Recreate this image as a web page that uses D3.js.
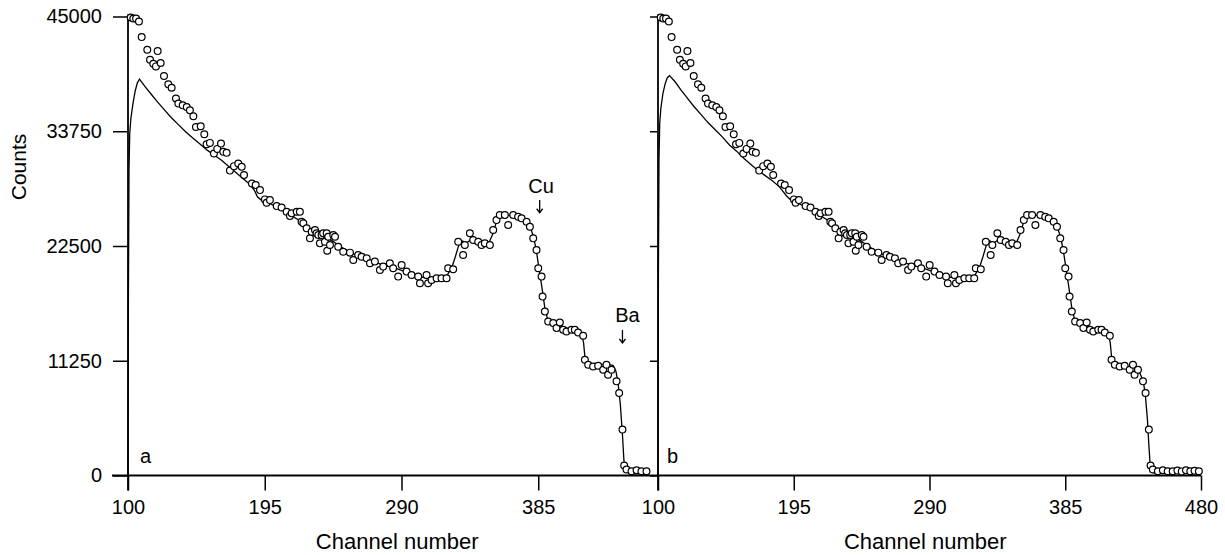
<!DOCTYPE html>
<html>
<head>
<meta charset="utf-8">
<script src="https://cdn.jsdelivr.net/npm/d3@7"></script>
<style>
  body { margin: 0; background: #fff; }
  svg { display: block; }
  text { font-family: "Liberation Sans", Arial, sans-serif; fill: #000; }
</style>
</head>
<body>
<div id="chart"></div>
<script>
// measured spectrum (circles), same in both panels
var dataChannel = [101.9,103.7,105.6,107.6,109.5,113.4,115.3,117.6,119.4,120.6,122.7,125.0,128.0,130.3,133.3,135.0,138.0,140.8,143.0,145.4,
  147.2,150.5,153.0,154.6,156.9,159.7,162.0,164.6,166.2,168.5,170.8,173.6,176.6,179.0,180.6,186.1,188.7,191.7,195.1,196.3,
  198.6,203.3,206.7,210.2,212.5,213.7,217.2,219.4,220.6,221.8,224.1,226.4,227.6,229.9,231.0,232.2,233.3,234.5,235.6,236.8,
  238.0,238.4,239.1,240.3,242.6,243.8,246.0,249.5,254.2,256.5,259.9,262.3,265.8,268.1,271.5,275.0,277.3,281.9,284.2,287.7,
  290.1,293.5,297.0,301.6,302.8,307.4,308.5,310.9,314.4,317.8,321.3,322.4,325.9,329.4,332.8,334.0,337.5,339.8,343.3,345.6,
  347.9,351.4,353.7,356.0,358.3,361.8,364.1,367.6,371.0,373.4,376.9,379.2,381.5,383.8,385.0,387.3,388.0,389.6,391.9,395.4,
  397.7,400.0,402.3,404.6,408.1,410.4,412.7,416.2,417.4,419.7,423.1,426.6,430.1,432.4,433.5,435.9,439.4,441.2,443.5,444.7,
  446.3,449.8,453.3,456.7,460.2,463.5,466.5,469.5,472.5,475.5,478.5];
var dataCounts = [44900,44800,44800,44510,42980,41740,40760,40370,40110,41610,40440,39160,38350,38020,36950,36460,36290,36130,35800,35220,
  34170,34240,33460,32480,32610,31570,32020,32540,31730,31630,29890,30330,30590,30260,29450,28630,28470,27980,27070,26740,
  27000,26410,26280,25860,25430,25700,25860,25860,24880,24720,24230,23250,23900,24070,23740,23580,22760,23580,23740,22920,
  23740,22040,23410,22600,23580,23410,22430,21940,21850,21130,21620,21450,21300,20810,20970,20150,20480,20810,20320,19500,
  20640,19990,19660,19500,18850,19660,18850,19170,19340,19340,19340,20320,20220,22920,21620,22600,23740,23090,22920,22600,
  22760,22600,24070,25040,25530,25530,24550,25530,25370,25210,24880,24390,23250,22110,20320,19500,17540,16070,15100,14940,
  14450,15000,14280,14120,14280,14280,14020,13700,11350,10860,10690,10760,10370,10860,9880,10370,9230,8090,4500,980,
  590,420,520,420,420,480,400,520,420,470,420];

// simulated spectrum, panel a
var fitAChannel = [100,100.3,100.7,101.2,102,103.5,105,106.5,108,112,116,120,125,130,135,140,145,150,155,160,165,170,175,180,185,188,190,193,
  198,205,212,218,224,230,236,242,248,254,260,266,272,278,284,290,296,302,308,314,319,322,325,327.5,330,332,335,339,343,347,351,353.5,
  356,359,363,368,372,376,379,381.5,383.5,385.5,387.5,389.5,391.5,394,400,406,412,415,416.5,417.5,419,425,432,437,439,440.5,442,443.5,
  444.5,445.5,448,455,461];
var fitACounts = [0,18000,30000,33500,35000,36500,37700,38500,38850,38100,37400,36700,35900,35100,34400,33700,33100,32500,31900,31400,30900,30300,29700,29100,28500,27900,27300,26950,
  26700,26200,25600,25100,24400,23900,23400,23000,22400,21900,21500,21200,20900,20600,20400,20100,19800,19500,19350,19300,19350,19700,20400,21500,22700,23000,22800,23200,23000,22800,22900,23700,
  24900,25400,25500,25500,25300,25000,24500,23500,22200,20300,18500,16500,15300,14900,14700,14400,14200,13900,13000,11500,11000,10900,10900,10800,10200,9000,7000,4000,
  1500,500,200,150,150];

// simulated spectrum, panel b
var fitBChannel = [100,100.3,100.7,101.2,102,103.5,105,106.5,108,112,116,120,125,130,135,140,145,150,155,160,165,170,175,180,185,190,193,
  198,205,212,218,224,230,236,242,248,254,260,266,272,278,284,290,296,302,308,314,319,322,325,327.5,330,332,335,339,343,347,351,353.5,
  356,359,363,368,372,376,379,381.5,383.5,385.5,387.5,389.5,391.5,394,400,406,412,415,416.5,417.5,419,423,427,431,434,437,439.5,441,442.5,
  443.5,444.5,446,450,460,470,479];
var fitBCounts = [0,20000,31000,34500,36000,37500,38400,39000,39200,38600,37800,37100,36200,35400,34600,33900,33200,32400,31800,31100,30500,29900,29400,28900,28300,27400,27000,
  26700,26200,25600,25100,24400,23900,23400,23000,22400,21900,21500,21200,20900,20600,20400,20100,19800,19500,19350,19300,19350,19700,20400,21500,22700,23000,22800,23200,23000,22800,22900,23700,
  24900,25400,25500,25500,25300,25000,24500,23500,22200,20300,18500,16500,15300,14900,14700,14400,14200,13900,13000,11500,10900,10700,10600,10300,10000,10100,9300,8000,5500,
  3000,900,300,200,200,200,200];

var xTicks = [100, 195, 290, 385, 480];
var yTicks = [0, 11250, 22500, 33750, 45000];

drawSpectra();
function drawSpectra(){
    var width = 1225, height = 555;

    var svg = d3.select("#chart")
      .append("svg")
        .attr("width", width)
        .attr("height", height);

    svg.append("rect").attr("width", width).attr("height", height).attr("fill", "#fff");

    var y = d3.scaleLinear().domain([0, 45000]).range([475.5, 16.5]);
    var xA = d3.scaleLinear().domain([100, 480]).range([128, 675]);
    var xB = d3.scaleLinear().domain([100, 480]).range([658, 1201]);

    var points = dataChannel.map(function(d, i) { return {ch: d, c: dataCounts[i]}; });
    var fitA = fitAChannel.map(function(d, i) { return {ch: d, c: fitACounts[i]}; });
    var fitB = fitBChannel.map(function(d, i) { return {ch: d, c: fitBCounts[i]}; });

    // x axis line runs across both panels
    svg.append("line")
        .attr("x1", xA(100) - 16).attr("x2", xB(480))
        .attr("y1", y(0)).attr("y2", y(0))
        .attr("stroke", "#000").attr("stroke-width", 1.8);

    drawPanel(xA, fitA, points.filter(function(d) { return d.ch <= 461; }), [100, 195, 290, 385], true, "a", 12);
    drawPanel(xB, fitB, points, xTicks, false, "b", 9);

    function drawPanel(x, fit, pts, ticks, labelled, tag, tagOffset){
        var g = svg.append("g");

        // Add X axis
        var xAxis = g.append("g")
            .attr("transform", "translate(0," + y(0) + ")")
            .call(d3.axisBottom(x).tickValues(ticks).tickSize(15).tickPadding(9).tickSizeOuter(0));
        xAxis.select(".domain").remove();
        xAxis.selectAll("line").attr("stroke-width", 1.5);
        xAxis.selectAll("text").attr("font-size", 20).style("font-family", "'Liberation Sans', Arial, sans-serif");

        // Add Y axis
        var yAxis = g.append("g")
            .attr("transform", "translate(" + x(100) + ",0)")
            .call(d3.axisLeft(y).tickValues(yTicks).tickSize(labelled ? 15 : 8).tickPadding(11)
                .tickFormat(labelled ? d3.format("d") : function() { return ""; }));
        yAxis.select(".domain").remove();
        yAxis.selectAll("line").attr("stroke-width", 1.5);
        yAxis.selectAll("text").attr("font-size", 20).style("font-family", "'Liberation Sans', Arial, sans-serif");

        g.append("line")
            .attr("x1", x(100)).attr("x2", x(100))
            .attr("y1", y(45000) - 2).attr("y2", y(0) + 15)
            .attr("stroke", "#000").attr("stroke-width", 1.8);

        // simulated curve
        var line = d3.line()
            .x(function(d) { return x(d.ch); })
            .y(function(d) { return y(d.c); });
        g.append("path")
            .datum(fit)
            .attr("d", line)
            .attr("fill", "none")
            .attr("stroke", "#000")
            .attr("stroke-width", 1.3);

        // measured points
        g.append("g")
            .selectAll("circle")
            .data(pts)
            .enter()
            .append("circle")
            .attr("cx", function(d) { return x(d.ch); })
            .attr("cy", function(d) { return y(d.c); })
            .attr("r", 3.4)
            .attr("fill", "#fff")
            .attr("stroke", "#000")
            .attr("stroke-width", 1.2);

        g.append("text")
            .attr("x", x(100) + tagOffset)
            .attr("y", y(0) - 12.5)
            .attr("font-size", 20)
            .text(tag);

        g.append("text")
            .attr("text-anchor", "middle")
            .attr("x", x(287))
            .attr("y", 549)
            .attr("font-size", 22)
            .text("Channel number");
    }

    svg.append("text")
        .attr("text-anchor", "middle")
        .attr("transform", "translate(26," + 167 + ")rotate(-90)")
        .attr("font-size", 21)
        .text("Counts");

    // element edge markers, panel a
    marker("Cu", 387, 27730, 386, 27020, 25760);
    marker("Ba", 447, 15050, 443.5, 14260, 12990);
    function marker(label, lx, ly, ax, a1, a2){
        svg.append("text")
            .attr("text-anchor", "middle")
            .attr("x", xA(lx)).attr("y", y(ly))
            .attr("font-size", 20)
            .text(label);
        svg.append("line")
            .attr("x1", xA(ax)).attr("x2", xA(ax))
            .attr("y1", y(a1)).attr("y2", y(a2))
            .attr("stroke", "#000").attr("stroke-width", 1.3);
        svg.append("path")
            .attr("d", "M" + (xA(ax) - 3) + "," + (y(a2) - 4) + "L" + xA(ax) + "," + y(a2) + "L" + (xA(ax) + 3) + "," + (y(a2) - 4))
            .attr("fill", "none")
            .attr("stroke", "#000").attr("stroke-width", 1.3);
    }
}
</script>
</body>
</html>
